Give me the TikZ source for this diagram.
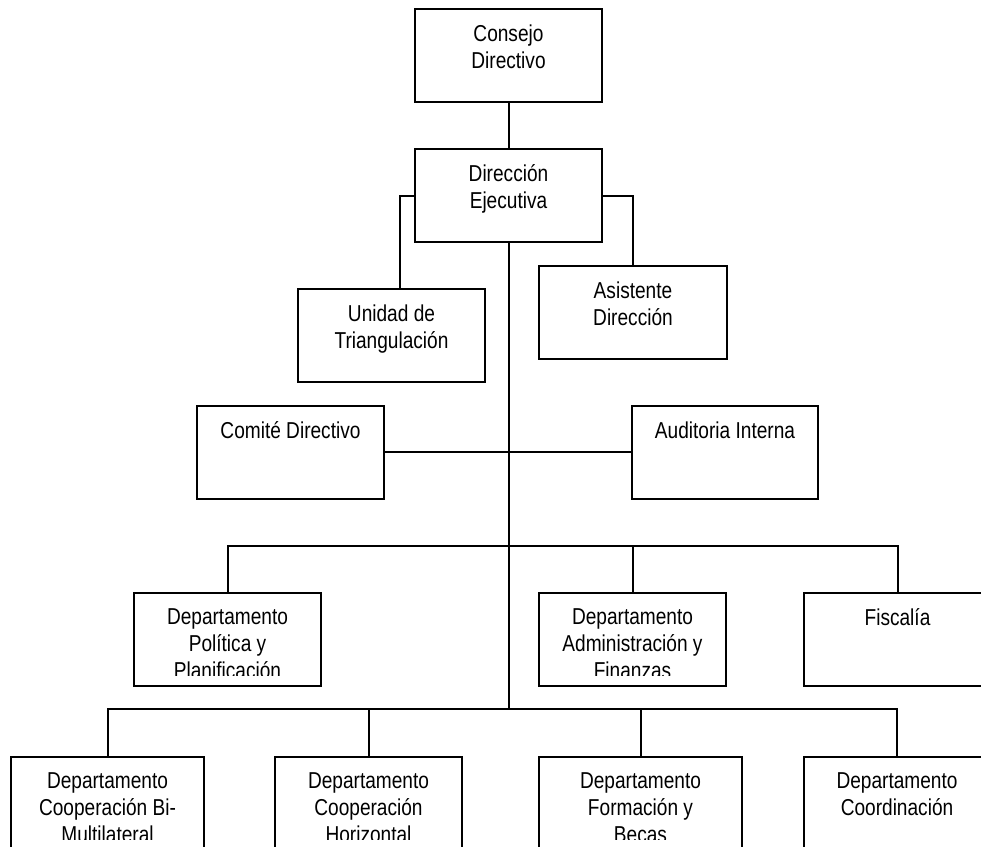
\documentclass[tikz,border=0pt]{standalone}
\usepackage{fontspec}
\setmainfont{Liberation Sans}[FakeStretch=0.83]
\usetikzlibrary{positioning}

\begin{document}
\begin{tikzpicture}[x=1pt, y=-1pt,
    box/.style={draw, line width=2pt, minimum width=#1, minimum height=93pt, inner sep=0pt},
    lbl/.style={anchor=north, align=center, inner sep=0pt, font=\fontsize{23}{27}\selectfont},
    line width=2pt]
    \useasboundingbox (0,0) rectangle (981,846);

    \node[box=187pt] (cons) at (508.5,55.5) {};
    \node[box=187pt] (dir) at (508.5,195.5) {};
    \node[box=187pt] (uni) at (391.5,335.5) {};
    \node[box=188pt] (asi) at (633,312.5) {};
    \node[box=187pt] (com) at (290.5,452) {};
    \node[box=186pt] (aud) at (725,452) {};
    \node[box=187pt] (pol) at (227.5,639) {};
    \node[box=187pt] (adm) at (632.5,639) {};
    \node[box=187pt] (fis) at (897.5,639) {};
    \node[box=193pt] (bim) at (107.5,803) {};
    \node[box=187pt] (hor) at (368.5,803) {};
    \node[box=203pt] (bec) at (640.5,803) {};
    \node[box=186pt] (coo) at (897,803) {};

    % Texts
    \node[lbl] (cons-t) at ([yshift=-16pt]cons.north) {Consejo\\Directivo};
    \node[lbl] (dir-t) at ([yshift=-16pt]dir.north) {Dirección\\Ejecutiva};
    \node[lbl] (uni-t) at ([yshift=-16pt]uni.north) {Unidad de\\Triangulación};
    \node[lbl] (asi-t) at ([yshift=-16pt]asi.north) {Asistente\\Dirección};
    \node[lbl] (com-t) at ([yshift=-16pt]com.north) {Comité Directivo};
    \node[lbl] (aud-t) at ([yshift=-16pt]aud.north) {Auditoria Interna};
    \begin{scope}
        \clip (0,0) rectangle (981,675);
        \node[lbl] (pol-t) at ([yshift=-16pt]pol.north) {Departamento\\Política y\\Planificación};
        \node[lbl] (adm-t) at ([yshift=-16pt]adm.north) {Departamento\\Administración y\\Finanzas};
        \node[lbl] (fis-t) at ([yshift=-16pt]fis.north) {Fiscalía};
    \end{scope}
    \begin{scope}
        \clip (0,0) rectangle (981,839);
        \node[lbl] (bim-t) at ([yshift=-16pt]bim.north) {Departamento\\Cooperación Bi-\\Multilateral};
        \node[lbl] (hor-t) at ([yshift=-16pt]hor.north) {Departamento\\Cooperación\\Horizontal};
        \node[lbl] (bec-t) at ([yshift=-16pt]bec.north) {Departamento\\Formación y\\Becas};
        \node[lbl] (coo-t) at ([yshift=-16pt]coo.north) {Departamento\\Coordinación};
    \end{scope}

    % Draw edges
    \coordinate (midbus) at (508.5,546);
    \coordinate (lowbus) at (508.5,709);
    \draw (cons) -- (dir);
    \draw (dir.west) -| ([xshift=8.5pt]uni.north);
    \draw (dir.east) -| (asi.north);
    \draw (dir.south) -- (lowbus);
    \draw (com.east) -- (aud.west);
    \draw (pol.north) |- (midbus) -| (fis.north);
    \draw (adm.north) -- (adm.north |- midbus);
    \draw (bim.north) |- (lowbus) -| (coo.north);
    \draw (hor.north) -- (hor.north |- lowbus);
    \draw (bec.north) -- (bec.north |- lowbus);
\end{tikzpicture}
\end{document}
